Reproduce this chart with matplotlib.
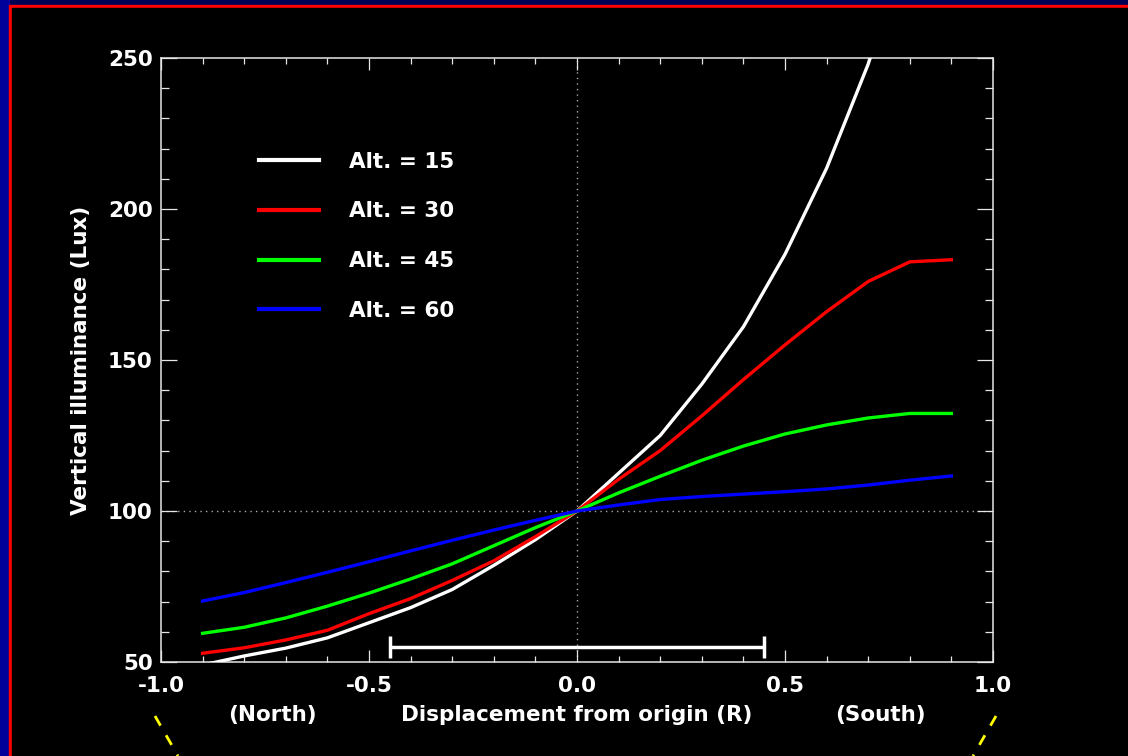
import matplotlib
matplotlib.use('Agg')
import matplotlib.pyplot as plt
from matplotlib.patches import Rectangle
from matplotlib.lines import Line2D

# ── DATA ──────────────────────────────────────────────────────────────────────
displacement = [-0.9, -0.8, -0.7, -0.6, -0.5, -0.4, -0.3, -0.2, -0.1, 0.0,
                0.1, 0.2, 0.3, 0.4, 0.5, 0.6, 0.7, 0.8, 0.9]
alt15 = [49.0, 52.0, 54.6, 58.0, 63.0, 68.0, 74.0, 82.0, 90.5, 100.0,
         112.5, 125.0, 142.0, 161.0, 185.0, 213.5, 248.0, 290.0, 340.0]
alt30 = [52.9, 54.7, 57.3, 60.5, 66.0, 71.0, 77.0, 83.5, 91.5, 100.0,
         110.5, 120.0, 131.5, 143.5, 155.0, 166.0, 176.0, 182.5, 183.2]
alt45 = [59.5, 61.5, 64.6, 68.5, 72.8, 77.5, 82.5, 88.5, 94.5, 100.0,
         106.0, 111.5, 116.8, 121.5, 125.5, 128.5, 130.8, 132.3, 132.3]
alt60 = [70.2, 73.0, 76.3, 79.7, 83.2, 86.8, 90.3, 93.7, 96.9, 100.0,
         102.0, 103.8, 104.8, 105.6, 106.4, 107.3, 108.6, 110.2, 111.6]

series = [(alt15, 'white', 'Alt. = 15'),
          (alt30, '#ff0000', 'Alt. = 30'),
          (alt45, '#00ff00', 'Alt. = 45'),
          (alt60, '#0000ff', 'Alt. = 60')]

bar_centre, bar_y, bar_halfwidth = 0.0, 55.0, 0.45

x_ticks = [-1.0, -0.5, 0.0, 0.5, 1.0]
y_ticks = [50, 100, 150, 200, 250]

# ── FIGURE / FRAME ────────────────────────────────────────────────────────────
W, H = 1128, 756
FS = 15.5
fig = plt.figure(figsize=(W / 100, H / 100), dpi=100)
fig.patch.set_facecolor('#000055')

def px_rect(x0, y0, x1, y1, color):
    fig.patches.append(Rectangle((x0 / W, 1 - y1 / H), (x1 - x0) / W, (y1 - y0) / H,
                                 transform=fig.transFigure, color=color, zorder=-10))

px_rect(0, 0, 9, H, '#00009a')
px_rect(9, 5, W, H, '#ff0000')
px_rect(12, 8, W, H, 'black')

# yellow dashed guide lines under the axis
for (x0, y0, x1, y1) in [(155, 716, 178, 756), (996, 716, 973, 756)]:
    fig.lines.append(Line2D([x0 / W, x1 / W], [1 - y0 / H, 1 - y1 / H],
                            transform=fig.transFigure, color='#ffff00',
                            lw=2, ls=(0, (4, 4))))

plt.rcParams['font.family'] = ['DejaVu Sans']
plt.rcParams['font.weight'] = 'bold'

ax = fig.add_axes([161 / W, 1 - 662 / H, 832 / W, 604 / H])
ax.set_facecolor('black')

for vals, col, lab in series:
    ax.plot(displacement, vals, color=col, lw=2.4, label=lab, zorder=3)

ax.axhline(100, color='#aaaaaa', lw=1, ls=(0, (1, 3)), zorder=1)
ax.axvline(0, color='#aaaaaa', lw=1, ls=(0, (1, 3)), zorder=1)

ax.errorbar([bar_centre], [bar_y], xerr=[bar_halfwidth], color='white', lw=2.5,
            capsize=8, capthick=2.5, zorder=4)

ax.set_xlim(-1.0, 1.0)
ax.set_ylim(50, 250)
ax.set_xticks(x_ticks)
ax.set_xticklabels([f'{v:.1f}' for v in x_ticks])
ax.set_yticks(y_ticks)
ax.set_xticks([i / 10 for i in range(-10, 11)], minor=True)
ax.set_yticks(list(range(50, 251, 10)), minor=True)

ax.tick_params(axis='both', which='both', direction='in', top=True, right=True,
               colors='#e6e6e6', labelcolor='white', labelsize=FS, width=0.9)
ax.tick_params(axis='x', which='major', length=8.6, pad=10)
ax.tick_params(axis='x', which='minor', length=4.3)
ax.tick_params(axis='y', which='major', length=11.5, pad=6)
ax.tick_params(axis='y', which='minor', length=5.8)
for sp in ax.spines.values():
    sp.set_color('#e6e6e6')
    sp.set_linewidth(1.1)

ax.set_ylabel('Vertical illuminance (Lux)', color='white', fontsize=FS,
              fontweight='bold', labelpad=12)
fig.text(577 / W, 1 - 715 / H, 'Displacement from origin (R)', color='white',
         fontsize=FS, fontweight='bold', ha='center', va='center')
fig.text(272 / W, 1 - 715 / H, '(North)', color='white', fontsize=FS,
         fontweight='bold', ha='center', va='center')
fig.text(880 / W, 1 - 715 / H, '(South)', color='white', fontsize=FS,
         fontweight='bold', ha='center', va='center')

leg = ax.legend(loc='upper left', bbox_to_anchor=(0.118, 0.845), frameon=False,
                fontsize=FS, handlelength=2.8, handletextpad=1.35,
                labelspacing=1.38, borderpad=0, borderaxespad=0)
for t in leg.get_texts():
    t.set_color('white')
for l in leg.get_lines():
    l.set_linewidth(3)

fig.savefig('out.png', dpi=100, facecolor=fig.get_facecolor())
